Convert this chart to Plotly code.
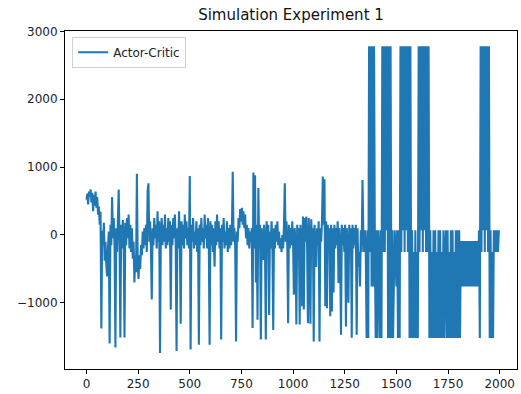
import numpy as np
import plotly.graph_objects as go

# Episode rewards, one value every 4 episodes
rewards_0000_0396 = [
    520, 610, 450, 640, 560, 670, 480, 620, 350, 590,
    430, 640, 400, 560, 300, 420, 150, 340, -1380, 60,
    -150, 180, -380, -100, -450, -610, -200, 50, -1600, 150,
    -150, 560, -50, 250, -200, -1660, 100, -250, 200, 670,
    -100, -1510, 150, -200, 220, -80, -1510, 180, -150, 250,
    -50, 300, -200, 150, -250, 100, -350, -100, -700, -300,
    -550, 900, -450, -650, -300, -500, -150, -300, 50, -200,
    100, -150, 150, -250, 650, 760, -100, 200, -200, -950,
    100, -150, 250, -50, 150, -200, 350, -100, 200, -1740,
    0, 250, -150, 150, -100, 300, -200, 100, -150, 250,
]
rewards_0400_0796 = [
    -100, 200, -1100, 150, -150, 250, -50, 300, -150, -1710,
    100, -200, 350, -100, -1310, 200, -150, 150, -200, 300,
    -50, 200, -150, 100, -200, 870, -1690, 150, -100, 250,
    -200, 50, -150, 200, -250, 100, -1620, 150, -150, 250,
    -100, 100, -200, 300, -50, 150, -200, 250, -100, -1620,
    200, -150, 150, -250, 100, -470, 200, -150, 300, -100,
    200, -200, 100, -1540, 150, -100, 250, -200, 50, -150,
    200, -250, 100, -200, 150, -150, 50, 930, -100, 100,
    -200, -1570, 50, -100, 250, 100, 380, 200, 400, 150,
    350, 100, 300, -50, 150, -150, 100, -200, 50, -100,
]
rewards_0800_1196 = [
    100, -1370, 920, -200, 880, -700, 150, -1250, 690, -200,
    150, -1540, 100, -250, -370, 150, -150, -1540, 200, -100,
    150, -1180, 50, -200, 200, -150, -1400, 100, -200, 150,
    -100, 200, -150, 50, -200, -50, -250, 0, -200, 150,
    760, -100, 200, -150, -1300, 150, -200, 100, -150, 200,
    -100, -880, 100, -150, -1320, 150, -200, 100, -1320, 150,
    -100, -1050, 270, -1100, 250, -100, 270, -150, -1300, 250,
    -100, -1310, 230, -150, 100, -1570, 150, -200, -470, 100,
    -150, 200, -1570, 100, -100, 200, 860, 150, 820, -1050,
    200, -1080, 150, -200, 100, -1200, 150, -1130, 100, -850,
]
rewards_1200_1596 = [
    150, -200, 100, -150, 200, -710, 100, -200, -1470, 150,
    -150, 100, -250, 150, -1350, 100, -200, -1000, 150, -150,
    100, -1515, 150, -200, 100, -150, 150, -1470, 100, -470,
    -250, -760, 70, -250, 810, 70, -250, 70, -250, -1520,
    70, -1520, 2780, -250, 2780, -760, 2780, -760, 2780, -250,
    -1520, 70, -1520, 70, -250, -1520, 70, -1520, 2780, -250,
    2780, -250, 2780, 70, 2780, -1520, 2780, -1520, 2780, -1520,
    70, -1520, -760, 70, -250, -760, 70, -1520, 70, -1520,
    2780, -250, 2780, 70, 2780, -250, 2780, 70, 2780, -250,
    2780, -1520, 2780, -1520, 70, -1520, -250, -1520, 70, -1520,
]
rewards_1600_1996 = [
    -250, -1520, 2780, -250, 2780, 70, 2780, -250, 2780, 70,
    2780, -250, 2780, -250, 2780, -1520, 70, -1520, -250, -1520,
    70, -1520, 70, -1520, -250, -1520, 70, -1520, 70, -1520,
    -250, -1520, 70, -1520, -250, 70, -1520, 70, -1520, -250,
    -1520, 70, -1520, 70, -1520, -250, -1520, 70, -1520, 70,
    -1520, 70, -1520, -90, -760, -90, -760, -90, -760, -90,
    -760, -90, -760, -90, -760, -90, -760, -90, -760, -90,
    -760, -90, -760, -90, -760, 70, -1520, 2780, -250, 2780,
    70, 2780, -250, 2780, 70, 2780, -250, 2780, -1520, 70,
    -1520, -250, -1520, 70, -250, 70, -250, 70, -250, 70,
]

rewards = (rewards_0000_0396 + rewards_0400_0796 + rewards_0800_1196
           + rewards_1200_1596 + rewards_1600_1996)
episode_step = 4
episodes = np.arange(len(rewards)) * episode_step

x_ticks = [0, 250, 500, 750, 1000, 1250, 1500, 1750, 2000]
y_ticks = [-1000, 0, 1000, 2000, 3000]

series_name = "Actor-Critic"
title_text = "Simulation Experiment 1"

fig = go.Figure()
fig.add_trace(go.Scatter(
    x=episodes, y=rewards, mode="lines", name=series_name,
    line=dict(color="#1f77b4", width=2.1),
))

axis_common = dict(
    showline=True, linecolor="#000000", linewidth=1, mirror=True,
    ticks="outside", ticklen=4, tickwidth=1, tickcolor="#000000",
    showgrid=False, zeroline=False,
    tickfont=dict(family="DejaVu Sans", size=12, color="#222222"),
)

fig.update_layout(
    width=521, height=394,
    margin=dict(l=64.5, r=4, t=31, b=25),
    paper_bgcolor="white", plot_bgcolor="white",
    title=dict(text=title_text, x=0.5, xanchor="center",
               xref="paper", y=1, yref="container", yanchor="top", pad=dict(t=9),
               font=dict(family="DejaVu Sans", size=15, color="#111111")),
    showlegend=True,
    legend=dict(x=0.016, y=0.983, xanchor="left", yanchor="top",
                bgcolor="rgba(255,255,255,0.8)", bordercolor="#d0d0d0", borderwidth=1,
                font=dict(family="DejaVu Sans", size=12, color="#222222"),
                itemwidth=30, tracegroupgap=0),
    xaxis=dict(range=[-104, 2084], tickvals=x_ticks, **axis_common),
    yaxis=dict(range=[-1976, 3006], tickvals=y_ticks, **axis_common),
)

fig.write_html("out.html")
